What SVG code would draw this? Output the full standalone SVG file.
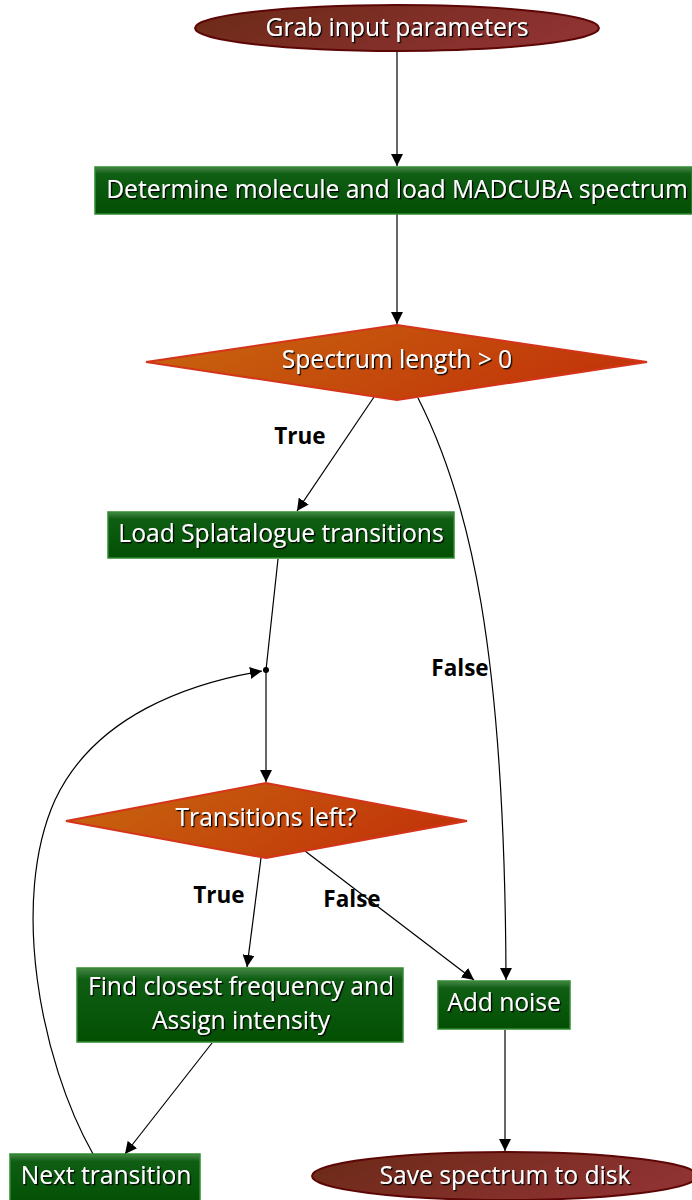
<svg xmlns="http://www.w3.org/2000/svg" width="692" height="1200" viewBox="0 0 692 1200">
<style>
.t{font-family:"Open Sans","Noto Sans",sans-serif;font-size:24.6px;fill:#fff;text-anchor:middle;filter:url(#sh)}
.lbl{font-family:"Open Sans","Noto Sans",sans-serif;font-size:22.5px;font-weight:bold;fill:#000;text-anchor:middle}
.box{fill:url(#gG);stroke:#2f8a2f;stroke-width:1.5}
.dia{fill:url(#gO);stroke:#d4341a;stroke-width:2}
.ell{fill:url(#gR);stroke:#5c0606;stroke-width:2}
.e{fill:none;stroke:#000;stroke-width:1.2}
</style>
<defs>
<linearGradient id="gG" x1="0" y1="0" x2="0" y2="1">
<stop offset="0" stop-color="#478747"/><stop offset="0.15" stop-color="#0f5e14"/><stop offset="1" stop-color="#035003"/>
</linearGradient>
<linearGradient id="gO" x1="0" y1="0" x2="1" y2="0.3">
<stop offset="0" stop-color="#c8680e"/><stop offset="1" stop-color="#c2360a"/>
</linearGradient>
<linearGradient id="gR" x1="0" y1="0" x2="1" y2="0.3">
<stop offset="0" stop-color="#6a2a16"/><stop offset="1" stop-color="#8e3232"/>
</linearGradient>
<filter id="sh" x="-10%" y="-30%" width="120%" height="160%">
<feDropShadow dx="1.3" dy="1.3" stdDeviation="0.7" flood-color="#000" flood-opacity="1"/>
</filter>
<marker id="ar" viewBox="0 0 10 10" refX="10" refY="5" markerWidth="12" markerHeight="12" markerUnits="userSpaceOnUse" orient="auto">
<path d="M0,0 L10,5 L0,10 z" fill="#000"/>
</marker>
</defs>
<g id="connectors">
<path class="e" d="M397,51 L397,166" marker-end="url(#ar)"/>
<path class="e" d="M397,214 L397,324" marker-end="url(#ar)"/>
<path class="e" d="M374,397 L297,511" marker-end="url(#ar)"/>
<path class="e" d="M418,398 C470,500 505,650 506,980" marker-end="url(#ar)"/>
<path class="e" d="M278,559 L266,670"/>
<path class="e" d="M266,670 L266,782" marker-end="url(#ar)"/>
<path class="e" d="M261,858 L247,967" marker-end="url(#ar)"/>
<path class="e" d="M305,851 L474,980" marker-end="url(#ar)"/>
<path class="e" d="M212,1043 L125,1154" marker-end="url(#ar)"/>
<path class="e" d="M93,1154 C40,1060 10,900 55,800 C95,715 190,683 262,671" marker-end="url(#ar)"/>
<path class="e" d="M505,1030 L505,1151" marker-end="url(#ar)"/>
<circle cx="266" cy="670" r="3" fill="#000"/>
<text class="lbl" x="300" y="444">True</text>
<text class="lbl" x="460" y="676">False</text>
<text class="lbl" x="219" y="903">True</text>
<text class="lbl" x="352" y="907">False</text>
</g>
<g id="n1"><ellipse class="ell" cx="397" cy="28" rx="202" ry="23"/><text class="t" x="397" y="36">Grab input parameters</text></g>
<g id="n2"><rect class="box" x="95" y="167" width="597" height="47"/><text class="t" x="397" y="198">Determine molecule and load MADCUBA spectrum</text></g>
<g id="n3"><polygon class="dia" points="146,362 397,325 647,362 397,400"/><text class="t" x="397" y="368">Spectrum length &gt; 0</text></g>
<g id="n4"><rect class="box" x="108" y="512" width="346" height="46"/><text class="t" x="281" y="542">Load Splatalogue transitions</text></g>
<g id="n5"><polygon class="dia" points="66,821 266,783 467,821 266,858"/><text class="t" x="266" y="826">Transitions left?</text></g>
<g id="n6"><rect class="box" x="77" y="968" width="326" height="74"/><text class="t" x="241" y="995">Find closest frequency and</text><text class="t" x="241" y="1029">Assign intensity</text></g>
<g id="n7"><rect class="box" x="438" y="981" width="132" height="48"/><text class="t" x="504" y="1011">Add noise</text></g>
<g id="n8"><rect class="box" x="10" y="1154" width="190" height="50"/><text class="t" x="106" y="1184">Next transition</text></g>
<g id="n9"><ellipse class="ell" cx="505" cy="1176" rx="193" ry="24"/><text class="t" x="505" y="1184">Save spectrum to disk</text></g>
</svg>
